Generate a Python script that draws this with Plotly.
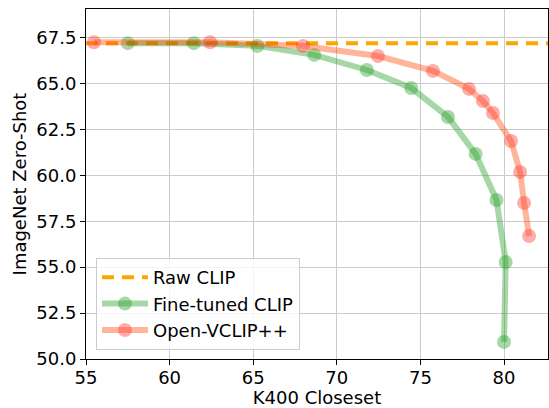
import plotly.graph_objects as go

# ---- data ----
raw_clip_value = 67.2

finetuned_x = [57.5, 61.45, 65.25, 68.65, 71.8, 74.45, 76.65, 78.3, 79.55, 80.1, 80.0]
finetuned_y = [67.2, 67.2, 67.05, 66.56, 65.74, 64.76, 63.18, 61.17, 58.66, 55.28, 50.93]

openvclip_x = [55.48, 62.42, 67.98, 72.46, 75.75, 77.91, 78.74, 79.34, 80.42, 80.96, 81.2, 81.5]
openvclip_y = [67.25, 67.25, 67.05, 66.5, 65.69, 64.71, 64.05, 63.4, 61.87, 60.19, 58.5, 56.7]

x_ticks = [55, 60, 65, 70, 75, 80]
y_ticks = [50.0, 52.5, 55.0, 57.5, 60.0, 62.5, 65.0, 67.5]
x_range = [55, 82.63]
y_range = [50, 69.06]

FONT = "DejaVu Sans"
FS = 18

fig = go.Figure()

fig.add_trace(go.Scatter(
    x=x_range, y=[raw_clip_value, raw_clip_value], mode="lines",
    name="Raw CLIP", legendgroup="a",
    line=dict(color="#FFA500", width=4, dash="12px,8px"),
))

fig.add_trace(go.Scatter(
    x=finetuned_x, y=finetuned_y, mode="lines+markers",
    name="Fine-tuned CLIP", legendgroup="b",
    line=dict(color="rgba(44,160,44,0.42)", width=6),
    marker=dict(size=14, color="rgba(44,160,44,0.42)", line=dict(width=0)),
))

fig.add_trace(go.Scatter(
    x=openvclip_x, y=openvclip_y, mode="lines+markers",
    name="Open-VCLIP++", legendgroup="c",
    line=dict(color="rgba(255,69,0,0.4)", width=6),
    marker=dict(size=14, color="rgba(255,60,50,0.42)", line=dict(width=0)),
))

axis_common = dict(
    showline=True, linecolor="black", linewidth=1, mirror=True,
    ticks="outside", ticklen=5, tickwidth=1, tickcolor="black",
    showgrid=True, gridcolor="#cbcbcb", gridwidth=1,
    zeroline=False, automargin=False,
    tickfont=dict(family=FONT, size=FS, color="black"),
)

fig.update_layout(
    width=549, height=408,
    margin=dict(l=86, r=1, t=9, b=49),
    paper_bgcolor="white", plot_bgcolor="white",
    font=dict(family=FONT, size=FS, color="black"),
    xaxis=dict(
        range=x_range, tickvals=x_ticks, ticktext=[str(v) for v in x_ticks],
        title=dict(text="K400 Closeset", font=dict(family=FONT, size=FS), standoff=9),
        ticklabelstandoff=-3,
        **axis_common,
    ),
    yaxis=dict(
        range=y_range, tickvals=y_ticks, ticktext=[f"{v:.1f}" for v in y_ticks],
        title=dict(text="ImageNet Zero-Shot", font=dict(family=FONT, size=FS), standoff=5),
        **axis_common,
    ),
    legend=dict(
        x=0.0216, y=0.0257, xanchor="left", yanchor="bottom",
        bgcolor="rgba(255,255,255,0.8)", bordercolor="#cccccc", borderwidth=1,
        font=dict(family=FONT, size=FS, color="black"),
        traceorder="grouped", tracegroupgap=0, itemwidth=46,
    ),
    showlegend=True,
)

fig.write_html(
    "out.html",
    config={"displayModeBar": False},
    post_script="document.body.style.margin='0';document.body.style.overflow='hidden';",
)
